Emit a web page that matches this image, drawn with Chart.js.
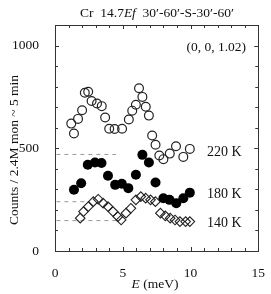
<!DOCTYPE html>
<html><head><meta charset="utf-8">
<script src="https://cdn.jsdelivr.net/npm/chart.js@4"></script>
<style>html,body{margin:0;padding:0;background:#fff}canvas{display:block}</style>
</head><body>
<canvas id="c" width="271" height="294"></canvas>
<script>
// ---- data ----
const e220 = [1.2,1.4,1.7,2.0,2.2,2.45,2.7,3.1,3.45,3.7,4.0,4.4,4.95,5.45,5.7,5.97,6.2,6.45,6.7,6.93,7.17,7.42,7.7,8.0,8.47,8.93,9.47,9.95];
const c220 = [620,572,643,685,770,775,730,718,705,650,595,594,595,640,683,712,792,750,702,659,562,517,465,447,474,510,458,497];
const e180 = [1.4,1.93,2.42,2.95,3.43,3.91,4.44,4.93,5.41,5.97,6.45,6.93,7.42,8.0,8.45,8.95,9.47,9.95];
const c180 = [298,330,420,431,428,366,322,327,306,371,468,431,333,257,249,233,257,284];
const e140 = [1.86,2.1,2.46,2.83,3.19,3.55,3.91,4.28,4.64,4.88,5.24,5.6,5.97,6.33,6.69,7.05,7.41,7.78,8.14,8.5,8.86,9.22,9.64,9.95];
const c140 = [160,192,216,240,252,233,216,192,167,151,184,208,249,265,257,249,240,184,171,160,151,143,143,143];
const bgLevels = [470,240,148];
const bgEnds = [4.5,2.45,4.55];
const seriesLabels = ['220 K','180 K','140 K'];
const xTickLabels = [0,5,10,15];
const yTickLabels = [0,500,1000];

const pts = (xs, ys) => xs.map((x,i)=>({x:x,y:ys[i]}));
const FONT = '"Liberation Serif", "DejaVu Serif", serif';

const datasets = [
  {label:seriesLabels[0], data:pts(e220,c220), pointStyle:'circle', pointRadius:4.4, borderColor:'#222', backgroundColor:'rgba(0,0,0,0)', pointBorderWidth:1.2, showLine:false},
  {label:seriesLabels[1], data:pts(e180,c180), pointStyle:'circle', pointRadius:5, borderColor:'#000', backgroundColor:'#000', pointBorderWidth:0, showLine:false},
  {label:seriesLabels[2], data:pts(e140,c140), pointStyle:'rectRot', pointRadius:4.8, borderColor:'#222', backgroundColor:'rgba(0,0,0,0)', pointBorderWidth:1.1, showLine:false},
];
bgLevels.forEach((v,i)=>{
  datasets.push({label:'bg'+i, data:[{x:0.1,y:v},{x:bgEnds[i],y:v}], showLine:true, borderColor:'#999', borderWidth:1, borderDash:[4,4], pointRadius:0, fill:false});
});

const decor = {
  id:'decor',
  afterDraw(chart){
    const ctx = chart.ctx, a = chart.chartArea, xs = chart.scales.x, ys = chart.scales.y;
    ctx.save();
    ctx.strokeStyle = '#333'; ctx.lineWidth = 1;
    ctx.strokeRect(Math.round(a.left)+0.5, Math.round(a.top)+0.5, Math.round(a.right-a.left), Math.round(a.bottom-a.top));
    ctx.beginPath();
    for (let v=0; v<=15; v+=1){
      const px = Math.round(xs.getPixelForValue(v))+0.5, L = (v%5===0)?4:3;
      ctx.moveTo(px, a.bottom); ctx.lineTo(px, a.bottom-L);
      ctx.moveTo(px, a.top); ctx.lineTo(px, a.top+L);
    }
    for (let v=0; v<=1100; v+=100){
      const py = Math.round(ys.getPixelForValue(v))+0.5, L = (v%500===0)?4:3;
      ctx.moveTo(a.left, py); ctx.lineTo(a.left+L, py);
      ctx.moveTo(a.right, py); ctx.lineTo(a.right-L, py);
    }
    ctx.stroke();
    ctx.fillStyle = '#111';
    ctx.textBaseline = 'alphabetic';
    // title with italic Ef
    const parts = [['Cr  14.7','normal'],['Ef','italic'],['  30\u2032-60\u2032-S-30\u2032-60\u2032','normal']];
    ctx.font = '13.5px '+FONT;
    let tx = 80;
    parts.forEach(p=>{ ctx.font = p[1]+' 13.5px '+FONT; ctx.fillText(p[0], tx, 17); tx += ctx.measureText(p[0]).width; });
    ctx.font = '13.5px '+FONT;
    ctx.textAlign = 'right';
    ctx.fillText('(0, 0, 1.02)', 246, 51);
    ctx.textAlign = 'left';
    ctx.font = '14px '+FONT;
    const lblY = [156, 198, 227];
    seriesLabels.forEach((s,i)=>ctx.fillText(s, 207, lblY[i]));
    // x title
    ctx.font = 'italic 13.5px '+FONT; const wE = ctx.measureText('E').width;
    ctx.font = '13.5px '+FONT; const wR = ctx.measureText(' (meV)').width;
    let sx = 155 - (wE+wR)/2;
    ctx.font = 'italic 13.5px '+FONT; ctx.fillText('E', sx, 288);
    ctx.font = '13.5px '+FONT; ctx.fillText(' (meV)', sx+wE, 288);
    // y title
    ctx.translate(18, 150); ctx.rotate(-Math.PI/2);
    ctx.textAlign = 'center';
    ctx.fillText('Counts / 2.4M mon ~ 5 min', 0, 0);
    ctx.restore();
  }
};

new Chart(document.getElementById('c'), {
  type:'scatter',
  data:{datasets:datasets},
  options:{
    responsive:false, animation:false, devicePixelRatio:1,
    layout:{padding:{left:0,right:9,top:25,bottom:0}},
    plugins:{legend:{display:false}, tooltip:{enabled:false}, title:{display:false}},
    scales:{
      x:{type:'linear', min:0, max:15,
         grid:{display:false}, border:{display:false},
         ticks:{stepSize:1, autoSkip:false, maxRotation:0, padding:6, color:'#111', font:{family:FONT, size:13.5},
                callback:(v)=> xTickLabels.includes(v) ? String(v) : ''},
         afterFit:(s)=>{s.height = 43;}},
      y:{type:'linear', min:0, max:1100,
         grid:{display:false}, border:{display:false},
         ticks:{stepSize:100, autoSkip:false, padding:8, color:'#111', font:{family:FONT, size:13.5},
                callback:(v)=> yTickLabels.includes(v) ? String(v) : ''},
         afterFit:(s)=>{s.width = 55;}}
    }
  },
  plugins:[decor]
});
</script>
</body></html>
